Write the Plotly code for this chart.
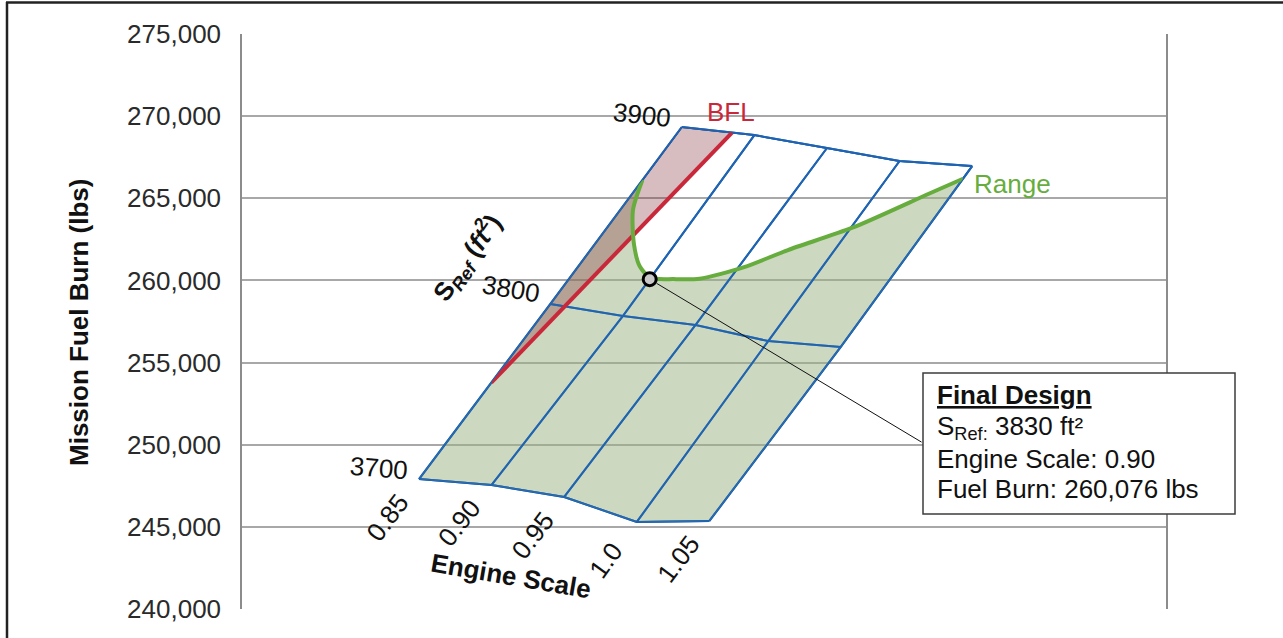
import math
import plotly.graph_objects as go

# ---- carpet grid: engine scale (a) x reference wing area (b) ----
ENGINE_SCALE = [0.85, 0.90, 0.95, 1.00, 1.05]
ENGINE_SCALE_LABELS = ["0.85", "0.90", "0.95", "1.0", "1.05"]
S_REF = [3700, 3800, 3900]
S_REF_LABELS = ["3700", "3800", "3900"]

# mission fuel burn (lbs) at each grid node, one list per S_Ref
FUEL_3700 = [247910, 247550, 246820, 245300, 245360]
FUEL_3800 = [258570, 257840, 257290, 256310, 255950]
FUEL_3900 = [269340, 268850, 268060, 267270, 266960]

# balanced field length constraint (engine scale, S_Ref)
BFL_ES = [0.85, 0.8846]
BFL_S = [3755, 3900]

# range constraint (engine scale, S_Ref)
RANGE_ES = [0.85, 0.858, 0.874, 0.888, 0.90, 0.915, 0.931, 0.953, 0.972, 1.001, 1.035, 1.05]
RANGE_S = [3870, 3854, 3837, 3826, 3821, 3822, 3824, 3833, 3846, 3863, 3884, 3893]

# final design
FINAL_S_REF = 3830
FINAL_ES = 0.90
FINAL_FUEL = 260076

Y_TICKS = [240000, 245000, 250000, 255000, 260000, 265000, 270000, 275000]

# ---- styling ----
FONT = "Liberation Sans, Arial, sans-serif"
BLUE = "#1f64b2"
RED = "#c8283a"
GREEN = "#66ad3e"
GRID = "#a8a8a8"
INK = "#111111"

W, H = 1283, 638
PLOT_LEFT, PLOT_RIGHT, PLOT_TOP, PLOT_BOTTOM = 242, 1166, 34, 609
CHEATER_SLOPE = -0.905
X_RANGE = [-0.31996, 1.35033]
Y_RANGE = [240000, 275000]
PX_PER_X = (PLOT_RIGHT - PLOT_LEFT) / (X_RANGE[1] - X_RANGE[0])
PX_PER_Y = (PLOT_BOTTOM - PLOT_TOP) / (Y_RANGE[1] - Y_RANGE[0])


def paper_x(px):
    return (px - PLOT_LEFT) / (PLOT_RIGHT - PLOT_LEFT)


def paper_y(py):
    return (PLOT_BOTTOM - py) / (PLOT_BOTTOM - PLOT_TOP)


def data_x(px):
    return X_RANGE[0] + paper_x(px) * (X_RANGE[1] - X_RANGE[0])


def data_y(py):
    return Y_RANGE[0] + paper_y(py) * (Y_RANGE[1] - Y_RANGE[0])


def cheater_x(es, s):
    # same normalised cheater abscissa that the carpet trace builds
    aval = (es - ENGINE_SCALE[0]) / (ENGINE_SCALE[-1] - ENGINE_SCALE[0])
    bval = (s - S_REF[0]) / (S_REF[-1] - S_REF[0])
    return (aval - bval * CHEATER_SLOPE) / (1 - CHEATER_SLOPE)


def screen_dir(x0, y0, x1, y1):
    dx = (x1 - x0) * PX_PER_X
    dy = -(y1 - y0) * PX_PER_Y
    n = math.hypot(dx, dy)
    return math.degrees(math.atan2(dy, dx)), dx / n, dy / n


fuel_rows = [FUEL_3700, FUEL_3800, FUEL_3900]
car_a = [es for s in S_REF for es in ENGINE_SCALE]
car_b = [s for s in S_REF for es in ENGINE_SCALE]
car_y = [v for row in fuel_rows for v in row]

# locate the final design on its engine-scale line at its fuel burn
i_es = ENGINE_SCALE.index(FINAL_ES)
lo, hi = FUEL_3800[i_es], FUEL_3900[i_es]
final_b = S_REF[1] + (FINAL_FUEL - lo) / (hi - lo) * (S_REF[2] - S_REF[1])

fig = go.Figure()

axis_common = dict(
    smoothing=0,
    showgrid=True,
    gridcolor=BLUE,
    gridwidth=2,
    startline=True,
    endline=True,
    startlinecolor=BLUE,
    endlinecolor=BLUE,
    startlinewidth=2,
    endlinewidth=2,
    minorgridcount=0,
    showticklabels="none",
)

fig.add_trace(go.Carpet(
    a=car_a, b=car_b, y=car_y,
    cheaterslope=CHEATER_SLOPE,
    carpet="fb",
    aaxis=axis_common,
    baxis=axis_common,
))

# feasible region under the range curve
green_a = ENGINE_SCALE + [ENGINE_SCALE[-1], ENGINE_SCALE[-1]] + RANGE_ES[::-1] + [ENGINE_SCALE[0]]
green_b = [S_REF[0]] * len(ENGINE_SCALE) + [S_REF[1], RANGE_S[-1]] + RANGE_S[::-1] + [S_REF[1]]
fig.add_trace(go.Scattercarpet(
    a=green_a, b=green_b, carpet="fb", mode="lines", fill="toself",
    fillcolor="rgba(155,177,131,0.5)", line=dict(width=0), hoverinfo="skip", showlegend=False,
))

# region excluded by the BFL constraint
pink_a = [BFL_ES[0], ENGINE_SCALE[0], ENGINE_SCALE[0], BFL_ES[1]]
pink_b = [BFL_S[0], S_REF[1], S_REF[2], BFL_S[1]]
fig.add_trace(go.Scattercarpet(
    a=pink_a, b=pink_b, carpet="fb", mode="lines", fill="toself",
    fillcolor="rgba(125,38,45,0.3)", line=dict(width=0), hoverinfo="skip", showlegend=False,
))

# carpet grid lines on top of the fills
for es in ENGINE_SCALE:
    fig.add_trace(go.Scattercarpet(
        a=[es] * len(S_REF), b=S_REF, carpet="fb", mode="lines",
        line=dict(color=BLUE, width=2), hoverinfo="skip", showlegend=False,
    ))
for s in S_REF:
    fig.add_trace(go.Scattercarpet(
        a=ENGINE_SCALE, b=[s] * len(ENGINE_SCALE), carpet="fb", mode="lines",
        line=dict(color=BLUE, width=2), hoverinfo="skip", showlegend=False,
    ))

# constraints
fig.add_trace(go.Scattercarpet(
    a=BFL_ES, b=BFL_S, carpet="fb", mode="lines",
    line=dict(color=RED, width=4), hoverinfo="skip", showlegend=False,
))
fig.add_trace(go.Scattercarpet(
    a=RANGE_ES, b=RANGE_S, carpet="fb", mode="lines",
    line=dict(color=GREEN, width=4, shape="spline", smoothing=0.7),
    hoverinfo="skip", showlegend=False,
))

# final design point
fig.add_trace(go.Scattercarpet(
    a=[FINAL_ES], b=[final_b], carpet="fb", mode="markers",
    marker=dict(size=13, color="#c8c8c8", line=dict(color="#000000", width=3)),
    hoverinfo="skip", showlegend=False,
))

pt_x = cheater_x(FINAL_ES, final_b)

annotations = [
    # leader line from the final design to the call-out box
    dict(x=pt_x, y=FINAL_FUEL, xref="x", yref="y",
         ax=data_x(923), ay=data_y(443), axref="x", ayref="y",
         text="", showarrow=True, arrowhead=0, arrowwidth=1, arrowcolor=INK, standoff=8),
    dict(x=paper_x(79), y=paper_y(323), xref="paper", yref="paper",
         text="<b>Mission Fuel Burn (lbs)</b>", textangle=-90, showarrow=False,
         xanchor="center", yanchor="middle", font=dict(family=FONT, size=26, color=INK)),
    dict(x=paper_x(731), y=paper_y(112), xref="paper", yref="paper", text="BFL",
         showarrow=False, xanchor="center", yanchor="middle",
         font=dict(family=FONT, size=26, color=RED)),
    dict(x=paper_x(972), y=paper_y(184), xref="paper", yref="paper", text="Range",
         showarrow=False, xanchor="left", yanchor="middle",
         font=dict(family=FONT, size=26, color=GREEN)),
]

# engine-scale labels, set along each grid line below the 3700 edge
ES_GAP = 45
for i, (es, lab) in enumerate(zip(ENGINE_SCALE, ENGINE_SCALE_LABELS)):
    x0, y0 = cheater_x(es, S_REF[0]), FUEL_3700[i]
    ang, ux, uy = screen_dir(x0, y0, cheater_x(es, S_REF[1]), FUEL_3800[i])
    annotations.append(dict(
        x=x0, y=y0, xref="x", yref="y", text=lab, showarrow=False, textangle=ang,
        xshift=-ux * ES_GAP - 4, yshift=uy * ES_GAP - 2,
        xanchor="center", yanchor="middle",
        font=dict(family=FONT, size=26, color=INK),
    ))

# S_Ref labels, set along each grid line left of the 0.85 edge
S_GAP, S_LIFT = 41, 8
for j, (s, lab) in enumerate(zip(S_REF, S_REF_LABELS)):
    row = fuel_rows[j]
    x0, y0 = cheater_x(ENGINE_SCALE[0], s), row[0]
    ang, ux, uy = screen_dir(x0, y0, cheater_x(ENGINE_SCALE[1], s), row[1])
    # screen offset: back along the line, then lifted off it
    sx = -ux * S_GAP + uy * S_LIFT
    sy = -uy * S_GAP - ux * S_LIFT
    annotations.append(dict(
        x=x0, y=y0, xref="x", yref="y", text=lab, showarrow=False, textangle=ang,
        xshift=sx, yshift=-sy,
        xanchor="center", yanchor="middle",
        font=dict(family=FONT, size=26, color=INK),
    ))

# carpet axis titles, parallel to their edges
edge_a_ang, _, _ = screen_dir(cheater_x(ENGINE_SCALE[0], S_REF[0]), FUEL_3700[0],
                              cheater_x(ENGINE_SCALE[-1], S_REF[0]), FUEL_3700[-1])
edge_b_ang, _, _ = screen_dir(cheater_x(ENGINE_SCALE[0], S_REF[0]), FUEL_3700[0],
                              cheater_x(ENGINE_SCALE[0], S_REF[-1]), FUEL_3900[0])
annotations.append(dict(
    x=paper_x(511), y=paper_y(576), xref="paper", yref="paper",
    text="<b>Engine Scale</b>", showarrow=False, textangle=edge_a_ang + 1.5,
    xanchor="center", yanchor="middle", font=dict(family=FONT, size=26, color=INK),
))
annotations.append(dict(
    x=paper_x(467), y=paper_y(258), xref="paper", yref="paper",
    text="<b>S<sub><i>Ref</i></sub> (<i>ft</i><sup>2</sup>)</b>", showarrow=False,
    textangle=edge_b_ang - 2, xanchor="center", yanchor="middle",
    font=dict(family=FONT, size=26, color=INK),
))

box_lines = [
    ("<b><u>Final Design</u></b>", 395),
    (f"S<sub>Ref:</sub> {FINAL_S_REF} ft²", 427),
    (f"Engine Scale: {FINAL_ES:.2f}", 459),
    (f"Fuel Burn: {FINAL_FUEL:,} lbs", 489),
]
for txt, py in box_lines:
    annotations.append(dict(
        x=paper_x(935), y=paper_y(py), xref="paper", yref="paper", text=txt,
        showarrow=False, xanchor="left", yanchor="middle",
        font=dict(family=FONT, size=26, color=INK),
    ))

shapes = [
    # call-out box
    dict(type="rect", xref="paper", yref="paper",
         x0=paper_x(923), x1=paper_x(1235), y0=paper_y(514), y1=paper_y(373),
         line=dict(color="#3c3c3c", width=1.5), fillcolor="white", layer="above"),
    # outer frame
    dict(type="line", xref="paper", yref="paper",
         x0=paper_x(7), x1=paper_x(7), y0=paper_y(2), y1=paper_y(645),
         line=dict(color="#222222", width=2.5)),
    dict(type="line", xref="paper", yref="paper",
         x0=paper_x(6), x1=paper_x(1290), y0=paper_y(2.5), y1=paper_y(2.5),
         line=dict(color="#222222", width=2.5)),
]

fig.update_layout(
    width=W, height=H,
    margin=dict(l=PLOT_LEFT, r=W - PLOT_RIGHT, t=PLOT_TOP, b=H - PLOT_BOTTOM, pad=0),
    paper_bgcolor="white", plot_bgcolor="white",
    showlegend=False,
    font=dict(family=FONT, size=26, color=INK),
    xaxis=dict(range=X_RANGE, showgrid=False, zeroline=False, showticklabels=False,
               showline=True, mirror=True, linecolor="#8c8c8c", linewidth=1.5, ticks=""),
    yaxis=dict(range=Y_RANGE, tickvals=Y_TICKS, tickformat=",d", showgrid=True,
               gridcolor=GRID, gridwidth=1.5, zeroline=False,
               showline=True, mirror=True, linecolor="#8c8c8c", linewidth=1.5, ticks="",
               ticklabelstandoff=14,
               tickfont=dict(family=FONT, size=26, color="#2a2a2a")),
    annotations=annotations,
    shapes=shapes,
)

fig.write_html("out.html")
